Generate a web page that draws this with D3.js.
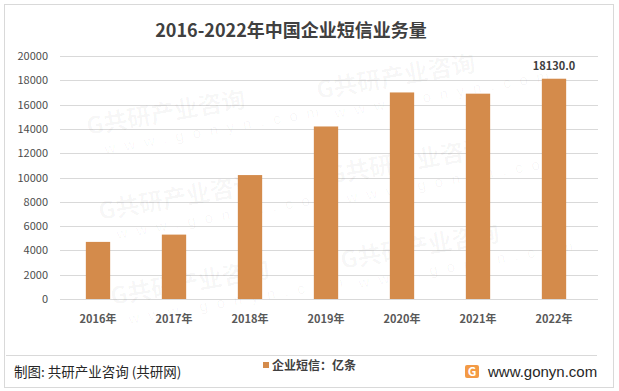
<!DOCTYPE html>
<html lang="zh">
<head>
<meta charset="UTF-8">
<title>2016-2022年中国企业短信业务量</title>
<script src="https://d3js.org/d3.v7.min.js"></script>
<style>
  body { margin: 0; background: #fff; font-family: "Noto Sans CJK SC", "Liberation Sans", sans-serif; }
  svg { display: block; }
</style>
</head>
<body>
<svg width="619" height="391"></svg>
<script>
const years = ["2016年", "2017年", "2018年", "2019年", "2020年", "2021年", "2022年"];
const volume = [4700, 5300, 10200, 14200, 17000, 16900, 18130];
const yTicks = [0, 2000, 4000, 6000, 8000, 10000, 12000, 14000, 16000, 18000, 20000];

const svg = d3.select("svg");
const W = 619, H = 391;
const margin = { left: 60, right: 27, top: 56, bottom: 92 };

// frame
svg.append("rect")
  .attr("x", 4.5).attr("y", 4.5)
  .attr("width", W - 10).attr("height", H - 8)
  .attr("fill", "#fff").attr("stroke", "#d9d9d9");

const x = d3.scaleBand()
  .domain(years)
  .range([margin.left, W - margin.right])
  .paddingInner(0.68).paddingOuter(0.34);

const y = d3.scaleLinear()
  .domain([0, 20000])
  .range([H - margin.bottom, margin.top]);

// gridlines
svg.append("g")
  .selectAll("line")
  .data(yTicks)
  .join("line")
  .attr("x1", margin.left).attr("x2", W - margin.right + 6)
  .attr("y1", d => Math.round(y(d)) + 0.5).attr("y2", d => Math.round(y(d)) + 0.5)
  .attr("stroke", "#d9d9d9");

// faint watermark, only the copies that sit inside the plot area
const wm = svg.append("g").attr("fill", "#000").attr("fill-opacity", 0.035);
for (let i = -2; i <= 3; i++) {
  for (let j = -2; j <= 4; j++) {
    const px = 88 + i * 230 + j * 12, py = 135 - i * 36 + j * 85;
    if (px < 8 || px + 180 > 606 || py < 80 || py + 30 > 340) continue;
    const g = wm.append("g").attr("transform", `translate(${px},${py}) rotate(-10)`);
    g.append("text").attr("font-size", 24).attr("font-weight", "bold").text("G共研产业咨询");
    g.append("text").attr("x", 14).attr("y", 22).attr("font-size", 15)
      .attr("letter-spacing", 9).attr("font-family", "Liberation Sans, sans-serif").text("www.gonyn.com");
  }
}

// y labels
svg.append("g")
  .selectAll("text")
  .data(yTicks)
  .join("text")
  .attr("x", 48).attr("y", d => y(d) + 4)
  .attr("text-anchor", "end")
  .attr("font-size", 11)
  .attr("fill", "#4d4d4d")
  .text(d => d);

// bars
svg.append("g")
  .selectAll("rect")
  .data(volume)
  .join("rect")
  .attr("x", (d, i) => x(years[i]))
  .attr("width", x.bandwidth())
  .attr("y", d => y(d))
  .attr("height", d => y(0) - y(d))
  .attr("fill", "#d48b4b");

// last value label
svg.append("text")
  .attr("x", x(years[6]) + x.bandwidth() / 2)
  .attr("y", y(volume[6]) - 9)
  .attr("text-anchor", "middle")
  .attr("font-size", 11).attr("font-weight", "bold")
  .attr("fill", "#404040")
  .text(volume[6].toFixed(1));

// x labels
svg.append("g")
  .selectAll("text")
  .data(years)
  .join("text")
  .attr("x", d => x(d) + x.bandwidth() / 2)
  .attr("y", 323)
  .attr("text-anchor", "middle")
  .attr("font-size", 11).attr("font-weight", "bold")
  .attr("fill", "#595959")
  .text(d => d);

// title
svg.append("text")
  .attr("x", 291).attr("y", 37)
  .attr("text-anchor", "middle")
  .attr("font-size", 18).attr("font-weight", "bold")
  .attr("fill", "#404040")
  .text("2016-2022年中国企业短信业务量");

// footer separator
svg.append("line")
  .attr("x1", 6).attr("x2", 597)
  .attr("y1", 355.5).attr("y2", 355.5)
  .attr("stroke", "#d9d9d9");

svg.append("text")
  .attr("x", 14).attr("y", 377)
  .attr("font-size", 13.5)
  .attr("fill", "#262626")
  .text("制图: 共研产业咨询 (共研网)");

// legend
svg.append("rect")
  .attr("x", 263).attr("y", 362)
  .attr("width", 6).attr("height", 6)
  .attr("fill", "#d48b4b");
svg.append("text")
  .attr("x", 272).attr("y", 369.5)
  .attr("font-size", 12).attr("font-weight", "bold")
  .attr("fill", "#404040")
  .text("企业短信：亿条");

// logo
const logo = svg.append("g").attr("transform", "translate(465,365)");
logo.append("rect").attr("width", 14).attr("height", 13).attr("rx", 2).attr("fill", "#f39a45");
logo.append("text").attr("x", 7).attr("y", 11).attr("text-anchor", "middle")
  .attr("font-size", 12).attr("font-weight", "bold").attr("fill", "#fff").text("G");
svg.append("text")
  .attr("x", 488).attr("y", 376.5)
  .attr("font-size", 15)
  .attr("fill", "#262626")
  .attr("font-family", "Liberation Sans, sans-serif")
  .text("www.gonyn.com");
</script>
</body>
</html>
